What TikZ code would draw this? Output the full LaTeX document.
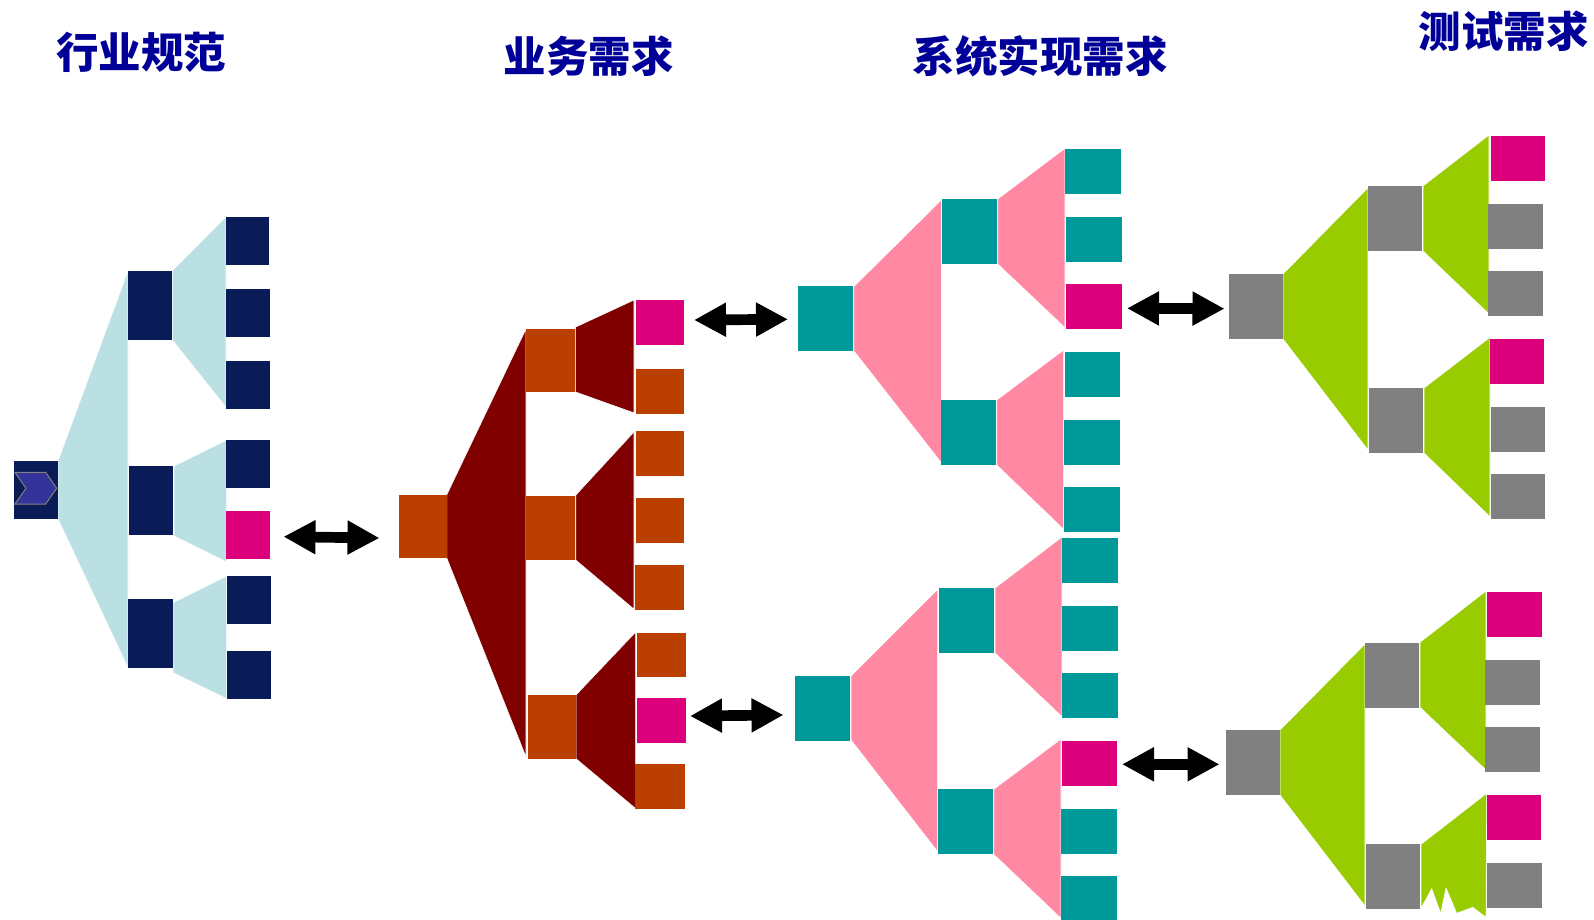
\documentclass[tikz,border=0pt]{standalone}
\usepackage{fontspec}
\newfontfamily\cjk{Noto Sans CJK SC}
\usetikzlibrary{arrows.meta}
\definecolor{navy}{HTML}{0A1C58}
\definecolor{paleteal}{HTML}{BBE0E3}
\definecolor{rust}{HTML}{BB3F00}
\definecolor{maroonx}{HTML}{800000}
\definecolor{magentax}{HTML}{DC007C}
\definecolor{tealx}{HTML}{009999}
\definecolor{pinkx}{HTML}{FF89A3}
\definecolor{grayx}{HTML}{808080}
\definecolor{greenx}{HTML}{99CC00}
\definecolor{titlex}{HTML}{000099}
\definecolor{chevronx}{HTML}{333399}
\tikzset{
  boxnode/.style={inner sep=0pt,outer sep=0pt,draw=none,rectangle},
  fan/.style={draw=white,line width=0.6pt,line join=miter},
  titlenode/.style={inner sep=0pt,text=titlex,font=\cjk\bfseries\fontsize{42.5}{42.5}\selectfont},
  linkarrow/.style={line width=10.7pt,draw=black,
    {Triangle[length=32pt,width=32pt]}-{Triangle[length=32pt,width=32pt]}}
}
% name, colour, x1, y1, x2, y2 in reference pixels
\newcommand{\bx}[6]{%
  \pgfmathsetmacro{\bw}{#5-#3}\pgfmathsetmacro{\bh}{#6-#4}%
  \pgfmathsetmacro{\bcx}{(#3+#5)/2}\pgfmathsetmacro{\bcy}{(#4+#6)/2}%
  \node[boxnode,fill=#2,minimum width=\bw pt,minimum height=\bh pt] (#1) at (\bcx,\bcy) {};}
% colour, then four corners
\newcommand{\fanshape}[5]{\path[fan,fill=#1] #2 -- #3 -- #4 -- #5 -- cycle;}
\begin{document}
\begin{tikzpicture}[x=1pt,y=-1pt]
\useasboundingbox (0,0) rectangle (1594,920);
\fill[white] (0,0) rectangle (1594,920);

% titles
\node[titlenode] (t1) at (141,52) {行业规范};
\node[titlenode] (t2) at (588.5,56) {业务需求};
\node[titlenode] (t3) at (1040,56) {系统实现需求};
\node[titlenode] (t4) at (1503.5,31) {测试需求};

% ---- column 1
\fanshape{paleteal}{(58,461)}{(128,270.7)}{(128,667.7)}{(58,519)}
\fanshape{paleteal}{(172.3,270.7)}{(226,216.7)}{(226,407.3)}{(172.3,340)}
\fanshape{paleteal}{(174,466)}{(226.7,440)}{(226.7,562)}{(174,536)}
\fanshape{paleteal}{(173,602.7)}{(226.7,576)}{(226.7,698.7)}{(173,672.7)}
\bx{a0}{navy}{14}{461}{58}{519}
\bx{a1}{navy}{128}{270.7}{172.3}{340}
\bx{a2}{navy}{129}{466}{173.3}{535}
\bx{a3}{navy}{128}{599}{173}{668}
\bx{a11}{navy}{226}{217}{269}{265}
\bx{a12}{navy}{226}{289}{270}{337}
\bx{a13}{navy}{226}{361}{270}{409}
\bx{a21}{navy}{226}{440}{270}{488}
\bx{a22}{magentax}{226}{511}{270}{559}
\bx{a31}{navy}{226.7}{576}{271}{624}
\bx{a32}{navy}{226.7}{651}{271}{699}
\draw[draw=gray,line width=1pt,fill=chevronx]
  (15,472.3) -- (45.7,472.3) -- (56.7,488.3) -- (45.7,504) -- (15,504) -- (26,488.3) -- cycle;

% ---- column 2
\fanshape{maroonx}{(446.7,494.9)}{(526,328.9)}{(526,757)}{(446.7,557.9)}
\fanshape{maroonx}{(575.3,327.2)}{(634,300)}{(634,412.9)}{(575.3,391.9)}
\fanshape{maroonx}{(575.7,495.2)}{(634,431.9)}{(634,609.2)}{(575.7,560)}
\fanshape{maroonx}{(576,695)}{(635.7,632)}{(635.7,808.6)}{(576,758.7)}
\bx{b0}{rust}{399}{494.9}{446.7}{557.9}
\bx{b1}{rust}{526}{328.9}{575.3}{391.9}
\bx{b2}{rust}{526}{495.9}{575.3}{560}
\bx{b3}{rust}{528}{695}{576}{759}
\bx{b11}{magentax}{636}{300}{684}{345.1}
\bx{b12}{rust}{636}{368.9}{684}{414}
\bx{b21}{rust}{636}{430.8}{684}{476}
\bx{b22}{rust}{636}{498}{684}{543.1}
\bx{b23}{rust}{635}{565.2}{684}{609.9}
\bx{b31}{rust}{637}{633}{686}{677.1}
\bx{b32}{magentax}{637}{698.1}{686}{742.9}
\bx{b33}{rust}{635.3}{763.9}{685}{809}

% ---- column 3, upper
\fanshape{pinkx}{(853.7,286.7)}{(941.3,200)}{(941.3,462.7)}{(853.7,350.7)}
\fanshape{pinkx}{(997.7,199)}{(1065,148.3)}{(1065,327.7)}{(997.7,264)}
\fanshape{pinkx}{(996.7,400)}{(1063.7,350)}{(1063.7,529.3)}{(996.7,465)}
\bx{c0}{tealx}{798}{286}{853}{351}
\bx{c1}{tealx}{942}{199}{997}{264}
\bx{c2}{tealx}{941}{400}{996.3}{465}
\bx{c11}{tealx}{1065}{149}{1121}{194}
\bx{c12}{tealx}{1066}{217}{1122}{262}
\bx{c13}{magentax}{1066}{284}{1122}{329}
\bx{c21}{tealx}{1065}{352}{1120}{397}
\bx{c22}{tealx}{1064}{420}{1120}{465}
\bx{c23}{tealx}{1064}{487}{1120}{532}

% ---- column 3, lower
\fanshape{pinkx}{(851,676)}{(937.7,589.3)}{(937.7,851.7)}{(851,740)}
\fanshape{pinkx}{(995,588)}{(1062,537)}{(1062,716.7)}{(995,653)}
\fanshape{pinkx}{(993.7,789.3)}{(1061,739)}{(1061,918.3)}{(993.7,854.3)}
\bx{d0}{tealx}{795}{676}{850}{741}
\bx{d1}{tealx}{939}{588}{994}{653}
\bx{d2}{tealx}{938}{789}{993}{854}
\bx{d11}{tealx}{1062}{538}{1118}{583}
\bx{d12}{tealx}{1062}{606}{1118}{651}
\bx{d13}{tealx}{1062}{673}{1118}{718}
\bx{d21}{magentax}{1062}{741}{1117}{786}
\bx{d22}{tealx}{1061}{809}{1117}{854}
\bx{d23}{tealx}{1061}{876}{1117}{921}

% ---- column 4, upper
\fanshape{greenx}{(1283,274)}{(1368,187.7)}{(1368,450)}{(1283,339)}
\fanshape{greenx}{(1423,186)}{(1489,135)}{(1489,314)}{(1423,251)}
\fanshape{greenx}{(1424,388)}{(1490,337.3)}{(1490,516.7)}{(1424,453)}
\bx{e0}{grayx}{1229}{274}{1283}{339}
\bx{e1}{grayx}{1368}{186}{1422}{251}
\bx{e2}{grayx}{1369}{388}{1423}{453}
\bx{e11}{magentax}{1491}{136}{1545}{181}
\bx{e12}{grayx}{1488}{204}{1543}{249}
\bx{e13}{grayx}{1488}{271}{1543}{316}
\bx{e21}{magentax}{1490}{339}{1544}{384}
\bx{e22}{grayx}{1491}{407}{1545}{452}
\bx{e23}{grayx}{1491}{474}{1545}{519}

% ---- column 4, lower
\fanshape{greenx}{(1280,730)}{(1365,644)}{(1365,906)}{(1280,795)}
\fanshape{greenx}{(1420,642.3)}{(1486,591)}{(1486,770)}{(1420,707.3)}
\path[fan,fill=greenx] (1421,844.3) -- (1486.7,793.3) -- (1486,917.3) -- (1472.7,907.3)
  -- (1456.7,913.3) -- (1446,888) -- (1440.7,913.3) -- (1431.7,888.7) -- (1421,908.3) -- cycle;
\bx{f0}{grayx}{1226}{730}{1280}{795}
\bx{f1}{grayx}{1365}{643}{1419}{708}
\bx{f2}{grayx}{1366}{844}{1420}{909}
\bx{f11}{magentax}{1487}{592}{1542}{637}
\bx{f12}{grayx}{1485}{660}{1540}{705}
\bx{f13}{grayx}{1485}{727}{1540}{772}
\bx{f21}{magentax}{1487}{795}{1541}{840}
\bx{f22}{grayx}{1487}{863}{1542}{908}

% ---- double arrows
\coordinate (l1) at (283.5,536.7);  \coordinate (r1) at (379.5,538);
\coordinate (l2) at (694,320);      \coordinate (r2) at (788,319.3);
\coordinate (l3) at (690,716);      \coordinate (r3) at (783.5,715);
\coordinate (l4) at (1127,308.3);   \coordinate (r4) at (1224.5,308.7);
\coordinate (l5) at (1122,764.3);   \coordinate (r5) at (1219.5,764.3);
\draw[linkarrow] (l1) -- (r1);
\draw[linkarrow] (l2) -- (r2);
\draw[linkarrow] (l3) -- (r3);
\draw[linkarrow] (l4) -- (r4);
\draw[linkarrow] (l5) -- (r5);
\end{tikzpicture}
\end{document}
